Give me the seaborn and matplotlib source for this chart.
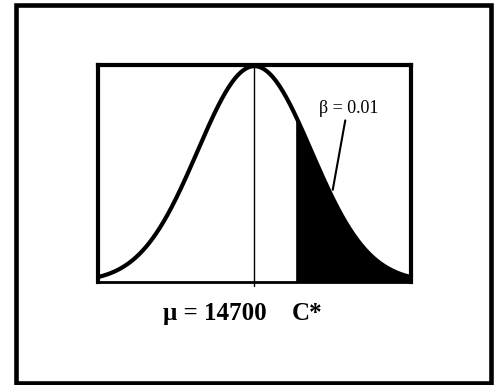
import numpy as np
import pandas as pd
import matplotlib.pyplot as plt
import seaborn as sns
from matplotlib.patches import Rectangle

# distribution values (schematic)
mu = 14700
sigma = 200
c_star = 14844
x_lo = 14150
x_hi = 15250
beta_label = "β = 0.01"
mu_label = "μ = 14700"
c_label = "C*"

sns.set_theme(style="white")
plt.rcParams['font.family'] = ['Liberation Serif', 'DejaVu Serif']

x = np.linspace(x_lo, x_hi, 400)
pdf = np.exp(-0.5 * ((x - mu) / sigma) ** 2) / (sigma * np.sqrt(2 * np.pi))
df = pd.DataFrame({"x": x, "pdf": pdf})
peak = pdf.max()

fig = plt.figure(figsize=(4.97, 3.85), dpi=100)
ax = fig.add_axes([0.197, 0.2675, 0.63, 0.5635])

sns.lineplot(data=df, x="x", y="pdf", ax=ax, color="black", linewidth=3)
tail = df[df["x"] >= c_star]
ax.fill_between(tail["x"], 0, tail["pdf"], color="black", linewidth=0)
ax.axvline(mu, ymin=-0.02, ymax=1, color="black", linewidth=1, clip_on=False)

ax.set_xlim(x_lo, x_hi)
ax.set_ylim(0, peak * 1.005)
ax.set_xticks([])
ax.set_yticks([])
ax.set_xlabel("")
ax.set_ylabel("")
for side in ["left", "top", "right"]:
    ax.spines[side].set_linewidth(3)
    ax.spines[side].set_color("black")
ax.spines["bottom"].set_linewidth(2)
ax.spines["bottom"].set_color("black")

# beta label with leader line
ax.text(0.80, 0.80, beta_label, transform=ax.transAxes, fontsize=13,
        ha="center", va="center", color="black")
ax.plot([0.790, 0.750], [0.745, 0.425], transform=ax.transAxes,
        color="black", linewidth=1.5)

fig.text(0.328, 0.169, mu_label, fontsize=18, fontweight="bold",
         ha="left", va="baseline", color="black")
fig.text(0.588, 0.169, c_label, fontsize=18, fontweight="bold",
         ha="left", va="baseline", color="black")

# outer frame
fig.patches.append(Rectangle((0.032, 0.006), 0.955, 0.98, transform=fig.transFigure,
                             fill=False, edgecolor="black", linewidth=3.3))

plt.savefig("out.png", dpi=100)
